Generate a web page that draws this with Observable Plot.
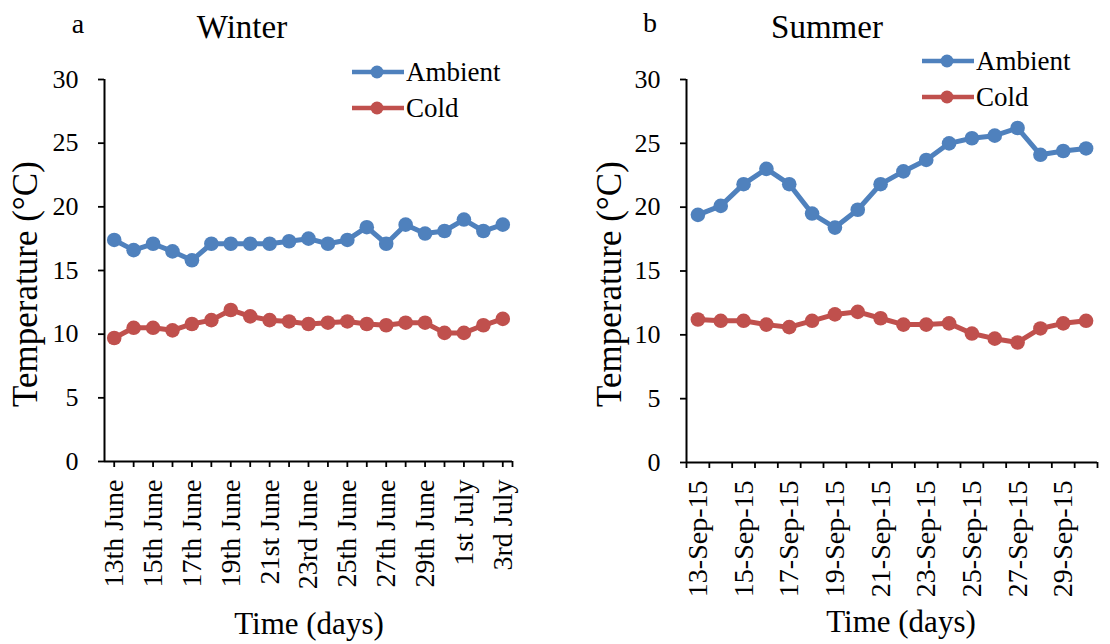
<!DOCTYPE html>
<html>
<head>
<meta charset="utf-8">
<script src="https://cdn.jsdelivr.net/npm/d3@7"></script>
<script src="https://cdn.jsdelivr.net/npm/@observablehq/plot@0.6"></script>
<style>
  html, body { margin: 0; padding: 0; background: #fff; }
  #wrap { position: relative; width: 1110px; height: 644px; overflow: hidden; font-family: "Liberation Serif", "Times New Roman", serif; }
  .panel { position: absolute; top: 0; }
  #overlay { position: absolute; left: 0; top: 0; pointer-events: none; }
</style>
</head>
<body>
<div id="wrap">
  <div id="left" class="panel" style="left:0px"></div>
  <div id="right" class="panel" style="left:555px"></div>
</div>
<script>
// ---------- data ----------
const seriesNames = ["Ambient", "Cold"];
const seriesColors = ["#4F81BD", "#C0504D"];

const winterDays = ["13th June","14th June","15th June","16th June","17th June","18th June","19th June",
  "20th June","21st June","22nd June","23rd June","24th June","25th June","26th June","27th June",
  "28th June","29th June","30th June","1st July","2nd July","3rd July"];
const winterAmbient = [17.4, 16.6, 17.1, 16.5, 15.8, 17.1, 17.1, 17.1, 17.1, 17.3, 17.5, 17.1, 17.4, 18.4, 17.1, 18.6, 17.9, 18.1, 19.0, 18.1, 18.6];
const winterCold    = [9.7, 10.5, 10.5, 10.3, 10.8, 11.1, 11.9, 11.4, 11.1, 11.0, 10.8, 10.9, 11.0, 10.8, 10.7, 10.9, 10.9, 10.1, 10.1, 10.7, 11.2];

const summerDays = ["13-Sep-15","14-Sep-15","15-Sep-15","16-Sep-15","17-Sep-15","18-Sep-15","19-Sep-15",
  "20-Sep-15","21-Sep-15","22-Sep-15","23-Sep-15","24-Sep-15","25-Sep-15","26-Sep-15","27-Sep-15",
  "28-Sep-15","29-Sep-15","30-Sep-15"];
const summerAmbient = [19.4, 20.1, 21.8, 23.0, 21.8, 19.5, 18.4, 19.8, 21.8, 22.8, 23.7, 25.0, 25.4, 25.6, 26.2, 24.1, 24.4, 24.6];
const summerCold    = [11.2, 11.1, 11.1, 10.8, 10.6, 11.1, 11.6, 11.8, 11.3, 10.8, 10.8, 10.9, 10.1, 9.7, 9.4, 10.5, 10.9, 11.1];

const yTicks = [0, 5, 10, 15, 20, 25, 30];
const panelLetters = ["a", "b"];
const panelTitles = ["Winter", "Summer"];
const xTitle = "Time (days)";
const yTitle = "Temperature (°C)";

// ---------- helpers ----------
const FONT = '"Liberation Serif", "Times New Roman", serif';
function rows(amb, cold) {
  return [
    ...amb.map((v, i) => ({i, series: "Ambient", value: v})),
    ...cold.map((v, i) => ({i, series: "Cold", value: v}))
  ];
}

function panel(days, amb, cold, opts) {
  const n = days.length;
  const idx = d3.range(n);
  const even = idx.filter(i => i % 2 === 0);
  const data = rows(amb, cold);
  return Plot.plot({
    width: 555,
    height: 644,
    marginLeft: opts.ml,
    marginRight: opts.mr,
    marginTop: opts.mt,
    marginBottom: opts.mb,
    style: {fontFamily: FONT, color: "#000", background: "transparent", overflow: "visible"},
    x: {domain: [-0.5, n - 0.5], axis: null},
    y: {domain: [0, 30], axis: null},
    color: {domain: seriesNames, range: seriesColors},
    marks: [
      // tick marks
      Plot.axisY({ticks: yTicks, tickSize: 6, tickFormat: () => "", strokeWidth: 1.8, label: null, anchor: "left"}),
      Plot.axisX({ticks: opts.tickPos(n), tickFormat: () => "", tickSize: 6, strokeWidth: 1.8, label: null, anchor: "bottom"}),
      // tick labels
      Plot.text(yTicks, {x: -0.5, y: d => d, text: d => String(d), textAnchor: "end", dx: -26,
        fontSize: 26, fontFamily: FONT, fill: "#000"}),
      Plot.text(even, {x: d => d, y: 0, text: i => days[i], rotate: -90, textAnchor: "end", dy: 18,
        fontSize: 28, fontFamily: FONT, fill: "#000"}),
      // axis lines
      Plot.ruleY([0], {stroke: "#000", strokeWidth: 2}),
      Plot.ruleX([-0.5], {y1: 0, y2: 30, stroke: "#000", strokeWidth: 2}),
      // data
      Plot.line(data, {x: "i", y: "value", z: "series", stroke: "series", strokeWidth: 5}),
      Plot.dot(data, {x: "i", y: "value", fill: "series", r: 7.3})
    ]
  });
}

document.getElementById("left").append(panel(winterDays, winterAmbient, winterCold, {
  ml: 104, mr: 43, mt: 79, mb: 183,
  tickPos: n => [...d3.range(n), n - 0.5]
}));
document.getElementById("right").append(panel(summerDays, summerAmbient, summerCold, {
  ml: 131, mr: 13, mt: 79, mb: 182,
  tickPos: n => d3.range(n + 1).map(k => k - 0.5)
}));

// ---------- overlay: titles, axis titles, legends ----------
const svg = d3.select("#wrap").append("svg").attr("id", "overlay")
  .attr("width", 1110).attr("height", 644)
  .attr("font-family", FONT);

const panelsLayout = [
  {letterX: 78, letterY: 33, titleX: 242, titleY: 38, yLabX: 37, yLabY: 284, xLabX: 309, xLabY: 634,
   legX: 352, legY: [72, 108]},
  {letterX: 650, letterY: 32, titleX: 827, titleY: 38, yLabX: 621, yLabY: 284, xLabX: 901, xLabY: 632,
   legX: 922, legY: [61, 97]}
];

panelsLayout.forEach((p, k) => {
  svg.append("text").attr("x", p.letterX).attr("y", p.letterY).attr("text-anchor", "middle")
    .attr("font-size", 28).text(panelLetters[k]);
  svg.append("text").attr("x", p.titleX).attr("y", p.titleY).attr("text-anchor", "middle")
    .attr("font-size", 33).text(panelTitles[k]);
  svg.append("text").attr("transform", `translate(${p.yLabX},${p.yLabY}) rotate(-90)`)
    .attr("text-anchor", "middle").attr("font-size", 35).text(yTitle);
  svg.append("text").attr("x", p.xLabX).attr("y", p.xLabY).attr("text-anchor", "middle")
    .attr("font-size", 31).text(xTitle);
  seriesNames.forEach((s, j) => {
    const y = p.legY[j];
    svg.append("line").attr("x1", p.legX).attr("x2", p.legX + 52).attr("y1", y).attr("y2", y)
      .attr("stroke", seriesColors[j]).attr("stroke-width", 4.5);
    svg.append("circle").attr("cx", p.legX + 25).attr("cy", y).attr("r", 6.5).attr("fill", seriesColors[j]);
    svg.append("text").attr("x", p.legX + 54).attr("y", y + 9).attr("font-size", 27).text(s);
  });
});
</script>
</body>
</html>
